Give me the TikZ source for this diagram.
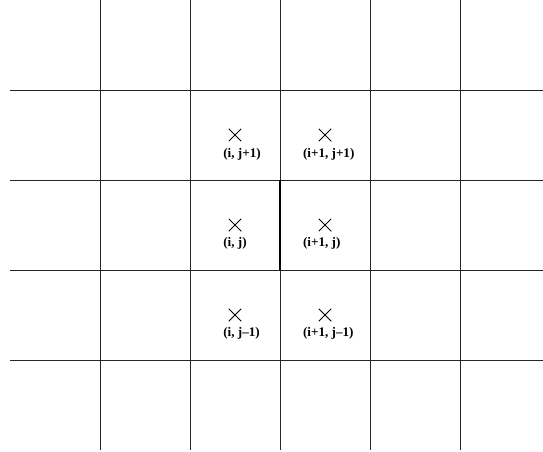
\documentclass[tikz,border=0pt]{standalone}
\usepackage{fontspec}
\setmainfont{Liberation Serif}
\usepackage{tikz}
\usetikzlibrary{shapes.misc, positioning, calc}

\begin{document}
\begin{tikzpicture}[
    x=2cm, y=2cm,
    gridline/.style={draw=black!85, line width=0.5pt},
    faceedge/.style={draw=black, line width=1.3pt},
    cell/.style={draw=black, cross out, line width=0.5pt, minimum size=0.26cm, inner sep=0pt},
    idx/.style={font=\fontsize{8.3pt}{10pt}\selectfont\bfseries, inner sep=0pt, anchor=west}
]
\useasboundingbox (-0.111,-0.022) rectangle (5.922,5);

% ==================== GRID ====================
\foreach \gx in {1,...,5} {
    \draw[gridline] (\gx,0) -- (\gx,5);
}
\foreach \gy in {1,...,4} {
    \draw[gridline] (0,\gy) -- (5.922,\gy);
}

% shared face between (i,j) and (i+1,j)
\coordinate (face_top) at (3,3);
\coordinate (face_bot) at (3,2);
\draw[faceedge] (face_top) -- (face_bot);

% ==================== CELL CENTRES ====================
\node[cell] (c_i_jp1)  at (2.5,3.5) {};
\node[cell] (c_ip1_jp1) at (3.5,3.5) {};
\node[cell] (c_i_j)    at (2.5,2.5) {};
\node[cell] (c_ip1_j)  at (3.5,2.5) {};
\node[cell] (c_i_jm1)  at (2.5,1.5) {};
\node[cell] (c_ip1_jm1) at (3.5,1.5) {};

% ==================== INDEX LABELS ====================
\node[idx] (l_i_jp1)   at (2.367,3.29) {(i, j+1)};
\node[idx] (l_ip1_jp1) at (3.252,3.29) {(i+1, j+1)};
\node[idx] (l_i_j)     at (2.367,2.30) {(i, j)};
\node[idx] (l_ip1_j)   at (3.252,2.30) {(i+1, j)};
\node[idx] (l_i_jm1)   at (2.367,1.30) {(i, j--1)};
\node[idx] (l_ip1_jm1) at (3.252,1.30) {(i+1, j--1)};

\end{tikzpicture}
\end{document}
